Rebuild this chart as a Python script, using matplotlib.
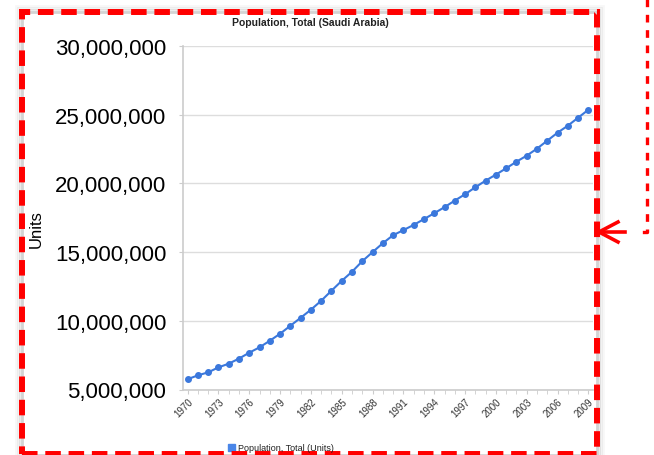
import matplotlib
matplotlib.use("Agg")
import matplotlib.pyplot as plt
from matplotlib.lines import Line2D
from matplotlib.patches import Rectangle
from matplotlib.ticker import FuncFormatter, MultipleLocator

plt.rcParams['font.family'] = ['Liberation Sans', 'DejaVu Sans']

years = list(range(1970, 2010))
population = [5.75, 6.03, 6.25, 6.61, 6.88, 7.25, 7.68, 8.07, 8.55, 9.06,
              9.64, 10.22, 10.81, 11.46, 12.19, 12.91, 13.57, 14.34, 15.00, 15.65,
              16.23, 16.60, 16.98, 17.40, 17.83, 18.27, 18.75, 19.21, 19.72, 20.20,
              20.64, 21.10, 21.58, 22.02, 22.53, 23.11, 23.69, 24.20, 24.78, 25.36]
population = [v * 1e6 for v in population]
label_years = list(range(1970, 2010, 3))

W, H = 654, 456
fig = plt.figure(figsize=(W / 100, H / 100), dpi=100)
fig.patch.set_facecolor('white')


def px(x, y):
    return x / W, 1 - y / H


ax = fig.add_axes([183 / W, 1 - 390.5 / H, (593 - 183) / W, (390.5 - 47) / H])
ax.plot(years, population, color='#3b78dc', lw=1.5, marker='o', ms=4, zorder=3)

ax.set_xlim(1969.55, 2009.45)
ax.set_ylim(5e6, 30e6)
ax.yaxis.set_major_locator(MultipleLocator(5e6))
ax.yaxis.set_major_formatter(FuncFormatter(lambda v, p: f"{int(v):,}"))
ax.set_xticks(label_years)
ax.set_xticklabels([str(y) for y in label_years], rotation=45, ha='right', va='top',
                   rotation_mode='anchor', fontsize=7, color='#333333')
ax.set_xticks(years, minor=True)
ax.tick_params(axis='x', which='both', length=3, color='#cccccc', pad=2)
ax.tick_params(axis='y', length=3, color='#cccccc', pad=9, labelsize=16)
ax.grid(axis='y', color='#dddddd', lw=1)
for s in ['top', 'right']:
    ax.spines[s].set_visible(False)
for s in ['left', 'bottom']:
    ax.spines[s].set_color('#cccccc')
    ax.spines[s].set_linewidth(1.2)

fig.text(*px(310, 23), 'Population, Total (Saudi Arabia)', ha='center', va='center',
         fontsize=7.5, fontweight='bold', color='#222222')
fig.text(*px(36, 229), 'Units', ha='center', va='center', rotation=90, fontsize=12)

# legend
fig.add_artist(Rectangle(px(228, 452), 7 / W, 7 / H, color='#4a86e8', transform=fig.transFigure))
fig.text(*px(238, 449), 'Population, Total (Units)', ha='left', va='center', fontsize=6.5,
         color='#222222')

# screenshot shadow and border
for i, a in enumerate([0.03, 0.05, 0.08]):
    d = 6 - 2 * i
    fig.add_artist(Rectangle(px(22 - d, 456 + d), (597 - 22 + 2 * d) / W, (456 - 13 + 2 * d) / H,
                             fill=False, ec='black', alpha=a, lw=2, transform=fig.transFigure))
fig.add_artist(Rectangle(px(22, 456), (597 - 22) / W, (456 - 13) / H, fill=False,
                         ec='#d4d4d4', lw=2, transform=fig.transFigure))
fig.add_artist(Rectangle(px(22, 455), (597 - 22) / W, (455 - 13) / H, fill=False,
                         ec='#ff0000', lw=4.3, ls=(0, (2.6, 1.3)), transform=fig.transFigure))

# callout line with arrow on the right
fig.add_artist(Line2D(*zip(px(647, 0), px(647, 233), px(637, 233)), color='#ff0000', lw=2.4,
                      ls=(0, (2.3, 2.3)), transform=fig.transFigure))
fig.add_artist(Line2D(*zip(px(599, 233), px(625, 233)), color='#ff0000', lw=2.6,
                      transform=fig.transFigure))
fig.add_artist(Line2D(*zip(px(618, 223), px(599, 233), px(618, 243)), color='#ff0000', lw=2.6,
                      solid_joinstyle='miter', transform=fig.transFigure))

fig.savefig('out.png', dpi=100, facecolor='white')
